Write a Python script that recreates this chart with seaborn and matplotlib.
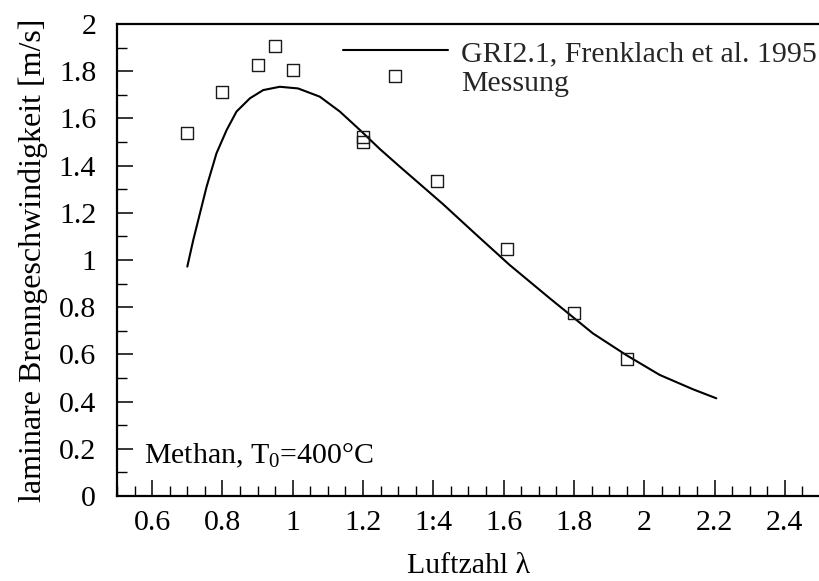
import matplotlib
matplotlib.use("Agg")
import matplotlib.pyplot as plt
import seaborn as sns
import pandas as pd
from matplotlib.ticker import MultipleLocator, FixedLocator, FixedFormatter

# --- data ---
sim_lambda = [0.700, 0.717, 0.736, 0.755, 0.783, 0.812, 0.840, 0.878, 0.916, 0.963,
              1.015, 1.077, 1.134, 1.191, 1.248, 1.305, 1.360, 1.428, 1.523, 1.617,
              1.731, 1.854, 1.949, 2.044, 2.139, 2.205]
sim_speed = [0.972, 1.085, 1.198, 1.311, 1.452, 1.551, 1.629, 1.685, 1.720, 1.734,
             1.727, 1.692, 1.629, 1.551, 1.470, 1.395, 1.324, 1.236, 1.106, 0.979,
             0.838, 0.689, 0.597, 0.513, 0.452, 0.414]

meas_lambda = [0.70, 0.80, 0.90, 0.95, 1.00, 1.20, 1.20, 1.29, 1.41, 1.61, 1.80, 1.95]
meas_speed = [1.54, 1.71, 1.825, 1.905, 1.805, 1.52, 1.50, 1.778, 1.335, 1.045, 0.774, 0.58]

x_ticks = [0.6, 0.8, 1.0, 1.2, 1.4, 1.6, 1.8, 2.0, 2.2, 2.4]
x_tick_labels = ["0.6", "0.8", "1", "1.2", "1:4", "1.6", "1.8", "2", "2.2", "2.4"]
y_ticks = [0, 0.2, 0.4, 0.6, 0.8, 1.0, 1.2, 1.4, 1.6, 1.8, 2.0]
y_tick_labels = ["0", "0.2", "0.4", "0.6", "0.8", "1", "1.2", "1.4", "1.6", "1.8", "2"]

sim_label = "GRI2.1, Frenklach et al. 1995"
meas_label = "Messung"
annotation = r"Methan, T$_\mathrm{0}$=400°C"

sim_df = pd.DataFrame({"lam": sim_lambda, "s": sim_speed})
meas_df = pd.DataFrame({"lam": meas_lambda, "s": meas_speed})

sns.set_theme(style="white")
plt.rcParams["font.family"] = ["Liberation Serif", "DejaVu Serif"]
plt.rcParams["mathtext.fontset"] = "custom"
plt.rcParams["mathtext.rm"] = "Liberation Serif"
plt.rcParams["mathtext.it"] = "Liberation Serif:italic"

TICK_FS = 21.5
TEXT_FS = 21.5
fig = plt.figure(figsize=(8.2, 5.81), dpi=100)
ax = fig.add_axes([117 / 820, 1 - 496 / 581, 1 - 117 / 820, (496 - 24) / 581])

sns.lineplot(data=sim_df, x="lam", y="s", ax=ax, color="black", linewidth=1.5,
             label=sim_label, sort=False)
for ln in ax.lines:
    ln.set_solid_joinstyle("round")
sns.scatterplot(data=meas_df, x="lam", y="s", ax=ax, marker="s", s=75,
                facecolor="none", edgecolor="#1a1a1a", linewidth=1.0,
                label=meas_label, zorder=3)

ax.set_xlim(0.5, 2.5)
ax.set_ylim(0, 2)
ax.xaxis.set_major_locator(FixedLocator(x_ticks))
ax.xaxis.set_major_formatter(FixedFormatter(x_tick_labels))
ax.xaxis.set_minor_locator(MultipleLocator(0.05))
ax.yaxis.set_major_locator(FixedLocator(y_ticks))
ax.yaxis.set_major_formatter(FixedFormatter(y_tick_labels))
ax.yaxis.set_minor_locator(MultipleLocator(0.1))

ax.tick_params(which="both", direction="in", colors="black", labelsize=TICK_FS,
               bottom=True, left=True, top=False, right=False)
ax.tick_params(which="major", length=11.5, width=1.1)
ax.tick_params(which="minor", length=7, width=1.0)
ax.tick_params(axis="y", which="major", pad=15)
ax.tick_params(axis="x", which="major", pad=10)

for side in ["left", "bottom", "top"]:
    ax.spines[side].set_visible(True)
    ax.spines[side].set_color("black")
    ax.spines[side].set_linewidth(1.6)
ax.spines["right"].set_visible(False)

ax.set_xlabel("Luftzahl λ", fontsize=TEXT_FS, labelpad=12, color="black")
ax.set_ylabel("laminare Brenngeschwindigkeit [m/s]", fontsize=23, labelpad=8, color="black")

ax.text((144 - 117) / (820 - 117), (496 - 463) / 472, annotation,
        fontsize=TEXT_FS, transform=ax.transAxes, ha="left", va="baseline", color="black")

leg = ax.legend(loc="upper left", bbox_to_anchor=((343 - 117) / (820 - 117), 1 - 16 / 472),
                frameon=False, fontsize=TEXT_FS, handlelength=3.5, handletextpad=0.45,
                borderpad=0, borderaxespad=0, labelspacing=0.12)
leg.legend_handles[1].set_visible(False)

fig.savefig("out.png", dpi=100)
